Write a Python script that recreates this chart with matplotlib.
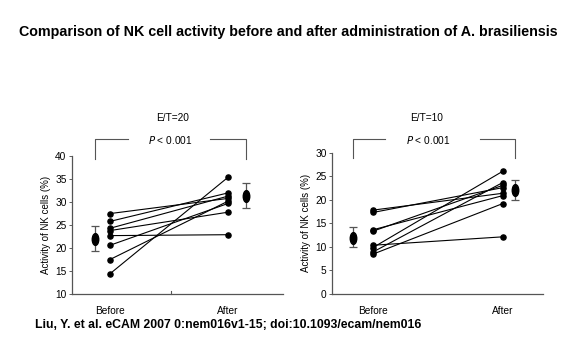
import matplotlib
matplotlib.use("Agg")
import matplotlib.pyplot as plt
from matplotlib.markers import MarkerStyle
from matplotlib.transforms import Affine2D

plt.rcParams['font.family'] = ['Liberation Sans', 'DejaVu Sans']

groups = ["Before", "After"]
et20_before = [27.4, 25.7, 24.2, 23.7, 22.6, 20.5, 17.4, 14.3]
et20_after = [30.7, 31.9, 31.2, 27.7, 22.8, 29.6, 30.1, 35.3]
et20_mean = [21.9, 31.3]
et20_err_low = [2.6, 2.7]
et20_err_high = [2.7, 2.7]

et10_before = [17.8, 17.3, 13.6, 13.3, 10.3, 9.8, 8.85, 8.4]
et10_after = [21.4, 22.6, 20.9, 23.1, 12.1, 26.1, 23.7, 19.2]
et10_mean = [11.8, 22.0]
et10_err_low = [1.9, 2.0]
et10_err_high = [2.5, 2.3]

W, H = 580, 357
fig = plt.figure(figsize=(W / 100, H / 100), dpi=100)

def frac_x(px):
    return px / W

def frac_y(py):
    return 1 - py / H

ax1 = fig.add_axes([frac_x(72), frac_y(293.5), frac_x(283 - 72), (293.5 - 155.7) / H])
ax2 = fig.add_axes([frac_x(332), frac_y(293.5), frac_x(543 - 332), (293.5 - 153) / H])

ellipse = MarkerStyle('o', transform=Affine2D().scale(0.55, 1.0))

def draw(ax, before, after, mean, elo, ehi, ylim, yticks, xlim, mean_x, bracket, pgap):
    for b, a in zip(before, after):
        ax.plot([1, 2], [b, a], color='black', lw=0.8, marker='o', ms=3.7,
                mfc='black', mec='black', clip_on=False, zorder=3)
    ax.errorbar(mean_x, mean, yerr=[elo, ehi], fmt='none', ecolor='#555555',
                elinewidth=0.9, capsize=3, capthick=0.9, clip_on=False)
    ax.plot(mean_x, mean, linestyle='none', marker=ellipse, ms=8.5, color='black',
            clip_on=False, zorder=4)
    ax.set_xlim(*xlim)
    ax.set_ylim(*ylim)
    ax.set_yticks(yticks)
    ax.set_yticklabels([str(t) for t in yticks], fontsize=7.3)
    ax.set_xticks([1, 2])
    ax.set_xticklabels(groups, fontsize=7.3)
    ax.tick_params(axis='x', length=0, pad=9)
    ax.tick_params(axis='y', length=2.5, width=0.6, pad=1.5, colors='#444444', labelcolor='black')
    for s in ['top', 'right']:
        ax.spines[s].set_visible(False)
    for s in ['left', 'bottom']:
        ax.spines[s].set_color('#555555')
        ax.spines[s].set_linewidth(0.9)
    ax.set_ylabel("Activity of NK cells (%)", fontsize=7, labelpad=3)
    top, bot = bracket
    ax.plot([mean_x[0], mean_x[0], pgap[0]], [bot, top, top], color='#555555', lw=0.8, clip_on=False)
    ax.plot([pgap[1], mean_x[1], mean_x[1]], [top, top, bot], color='#555555', lw=0.8, clip_on=False)

draw(ax1, et20_before, et20_after, et20_mean, et20_err_low, et20_err_high,
     (10, 40), [10, 15, 20, 25, 30, 35, 40], (0.678, 2.466), [0.873, 2.153],
     (43.65, 39.3), (1.153, 1.847))
draw(ax2, et10_before, et10_after, et10_mean, et10_err_low, et10_err_high,
     (0, 30), [0, 5, 10, 15, 20, 25, 30], (0.685, 2.31), [0.846, 2.092],
     (33.0, 29.0), (1.092, 1.823))

# small middle tick on left x axis
ax1.plot([1.517, 1.517], [10, 10.6], color='#555555', lw=0.8, clip_on=False)

fig.text(frac_x(173), frac_y(118), "E/T=20", fontsize=7.3, ha='center', va='center')
fig.text(frac_x(427), frac_y(118), "E/T=10", fontsize=7.3, ha='center', va='center')
fig.text(frac_x(170), frac_y(140), r"$\it{P}$ < 0.001", fontsize=7.3, ha='center', va='center')
fig.text(frac_x(428), frac_y(140), r"$\it{P}$ < 0.001", fontsize=7.3, ha='center', va='center')

fig.text(frac_x(288), frac_y(32), "Comparison of NK cell activity before and after administration of A. brasiliensis",
         fontsize=10.3, fontweight='bold', ha='center', va='center')
fig.text(frac_x(35), frac_y(325), "Liu, Y. et al. eCAM 2007 0:nem016v1-15; doi:10.1093/ecam/nem016",
         fontsize=8.8, fontweight='bold', ha='left', va='center')

fig.savefig("out.png", dpi=100)
